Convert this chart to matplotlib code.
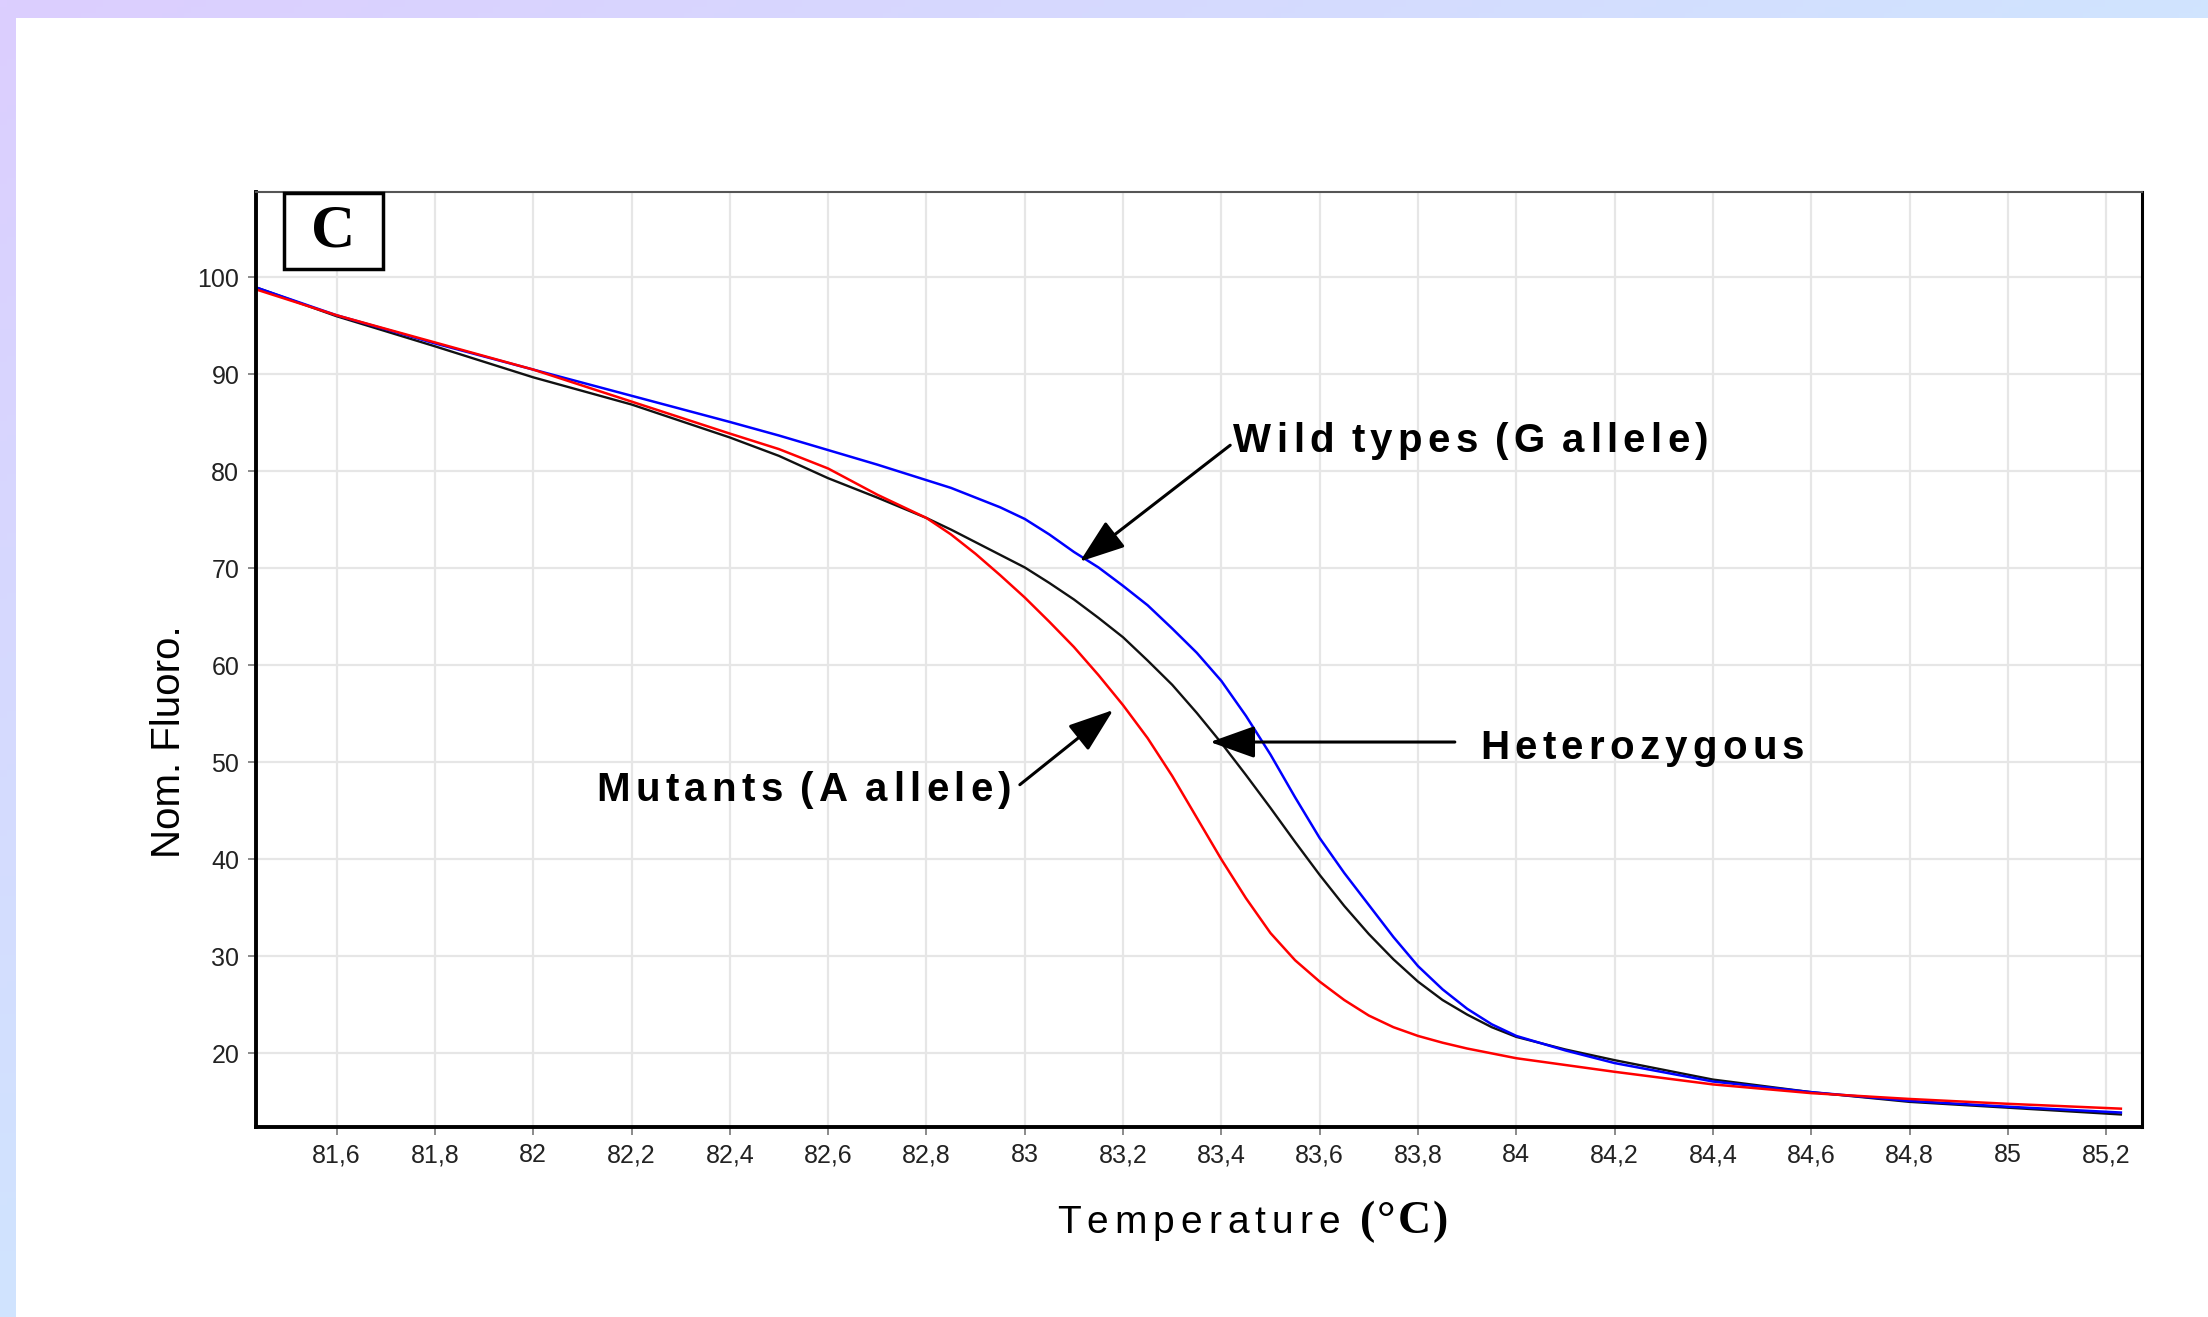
import matplotlib
import matplotlib.pyplot as plt
import numpy as np
from matplotlib.patches import Rectangle
from matplotlib.transforms import offset_copy

matplotlib.use("Agg")

# melting curve data
temperature = [81.44, 81.6, 81.8, 82.0, 82.2, 82.4, 82.5, 82.6, 82.7, 82.8,
               82.85, 82.9, 82.95, 83.0, 83.05, 83.1, 83.15, 83.2, 83.25, 83.3,
               83.35, 83.4, 83.45, 83.5, 83.55, 83.6, 83.65, 83.7, 83.75, 83.8,
               83.85, 83.9, 83.95, 84.0, 84.1, 84.2, 84.4, 84.6, 84.8, 85.0, 85.23]
wild_type = [98.9, 96.1, 93.2, 90.5, 87.8, 85.1, 83.7, 82.2, 80.7, 79.1,
             78.3, 77.3, 76.3, 75.1, 73.5, 71.7, 70.1, 68.2, 66.2, 63.8,
             61.3, 58.4, 54.8, 50.8, 46.4, 42.2, 38.6, 35.3, 32.0, 29.0,
             26.6, 24.6, 23.0, 21.8, 20.3, 19.0, 17.1, 16.0, 15.1, 14.5, 13.9]
heterozygous = [98.9, 96.0, 92.9, 89.7, 86.9, 83.5, 81.6, 79.3, 77.3, 75.2,
                74.0, 72.7, 71.4, 70.1, 68.5, 66.8, 64.9, 62.9, 60.5, 58.0,
                55.1, 52.0, 48.7, 45.3, 41.8, 38.4, 35.2, 32.3, 29.7, 27.4,
                25.5, 24.0, 22.7, 21.7, 20.4, 19.3, 17.3, 16.0, 15.0, 14.4, 13.7]
mutant = [98.7, 96.1, 93.3, 90.5, 87.2, 83.9, 82.3, 80.3, 77.6, 75.2,
          73.5, 71.5, 69.3, 67.0, 64.5, 61.9, 59.0, 55.9, 52.5, 48.6,
          44.3, 40.0, 36.0, 32.4, 29.6, 27.4, 25.5, 23.9, 22.7, 21.8,
          21.1, 20.5, 20.0, 19.5, 18.8, 18.1, 16.8, 15.9, 15.3, 14.8, 14.3]

x_ticks = [81.6, 81.8, 82.0, 82.2, 82.4, 82.6, 82.8, 83.0, 83.2, 83.4,
           83.6, 83.8, 84.0, 84.2, 84.4, 84.6, 84.8, 85.0, 85.2]
x_tick_labels = ["81,6", "81,8", "82", "82,2", "82,4", "82,6", "82,8", "83",
                 "83,2", "83,4", "83,6", "83,8", "84", "84,2", "84,4", "84,6",
                 "84,8", "85", "85,2"]
y_ticks = [20, 30, 40, 50, 60, 70, 80, 90, 100]

# label text, text position (left, baseline), arrow tail, arrow tip
labels = [
    ("Wild types (G allele)", (83.424, 82.0), (83.418, 82.7), (83.112, 70.7)),
    ("Mutants (A allele)", (82.129, 46.0), (82.99, 47.7), (83.18, 55.4)),
    ("Heterozygous", (83.926, 50.4), (83.875, 52.1), (83.377, 52.1)),
]

plt.rcParams["font.family"] = ["Liberation Sans", "DejaVu Sans"]

W, H = 2208, 1317
fig = plt.figure(figsize=(W / 100, H / 100), dpi=100)
renderer = fig.canvas.get_renderer()

# slide frame: gradient band on top and left
bg = fig.add_axes([0, 0, 1, 1], zorder=-10)
gx, gy = np.meshgrid(np.linspace(0, 1, 300), np.linspace(0, 1, 200))
t = np.clip(gx + gy, 0, 1)[..., None]
c0 = np.array([220, 206, 255]) / 255
c1 = np.array([208, 228, 254]) / 255
bg.imshow(c0 * (1 - t) + c1 * t, extent=[0, 1, 1, 0], aspect="auto")
bg.set_xlim(0, 1)
bg.set_ylim(1, 0)
bg.axis("off")
bg.add_patch(Rectangle((16 / W, 18 / H), 1, 1, color="white", lw=0))

ax = fig.add_axes([256 / W, 1 - 1126.6 / H, (2142 - 256) / W, (1126.6 - 191.5) / H])
ax.set_xlim(81.436, 85.273)
ax.set_ylim(12.45, 108.86)

ax.plot(temperature, heterozygous, color="#111111", lw=1.7)
ax.plot(temperature, wild_type, color="#0000ff", lw=1.8)
ax.plot(temperature, mutant, color="#ff0000", lw=1.8)

ax.set_xticks(x_ticks)
ax.set_xticklabels(x_tick_labels)
ax.set_yticks(y_ticks)
ax.grid(True, color="#e6e6e6", lw=1.6)
ax.set_axisbelow(True)
ax.tick_params(direction="out", length=6, width=1.2, color="#777777",
               labelsize=18, pad=6, labelcolor="#222222")
for side in ["left", "bottom"]:
    ax.spines[side].set_linewidth(2.8)
    ax.spines[side].set_color("black")
ax.spines["right"].set_linewidth(2.2)
ax.spines["top"].set_linewidth(1.5)
ax.spines["top"].set_color("#555555")


def spaced_text(base, x, y, text, gap, size, start=0.0, **kw):
    """Draw text one glyph at a time with extra letter spacing (in pixels)."""
    offset = start
    for ch in text:
        if ch == " ":
            offset += size * 100 / 72 * 0.3
            continue
        tr = offset_copy(base, fig=fig, x=offset, units="dots")
        t = fig.text(x, y, ch, transform=tr, fontsize=size, va="baseline", ha="left", **kw)
        offset += t.get_window_extent(renderer).width + gap
    return offset


for text, pos, tail, tip in labels:
    ax.annotate("", xy=tip, xytext=tail,
                arrowprops=dict(arrowstyle="-|>,head_length=1.4,head_width=0.5",
                                lw=2.2, color="black", mutation_scale=20,
                                shrinkA=0, shrinkB=0))
    spaced_text(ax.transData, pos[0], pos[1], text, 5.3, 29, fontweight="bold", color="black")

# panel letter box
ax.add_patch(Rectangle((0.0148, 0.917), 0.0525, 0.081, transform=ax.transAxes,
                       facecolor="white", edgecolor="black", lw=2.5, zorder=5, clip_on=False))
ax.text(0.0148 + 0.0525 / 2, 0.917 + 0.081 / 2, "C", transform=ax.transAxes,
        ha="center", va="center", fontsize=44, fontweight="bold",
        family="Liberation Serif", zorder=6)

# axis titles
end = spaced_text(fig.transFigure, 1057 / W, 84 / H, "Temperature", 6, 28, color="black")
spaced_text(fig.transFigure, 1057 / W, 84 / H, "(°C)", 2, 33, start=end + 14,
            fontweight="bold", family="Liberation Serif", color="black")
fig.text(169 / W, 1 - 742 / H, "Nom. Fluoro.", rotation=90, ha="center", va="center",
         fontsize=29, color="black")

fig.savefig("out.png", dpi=100)
plt.close(fig)
